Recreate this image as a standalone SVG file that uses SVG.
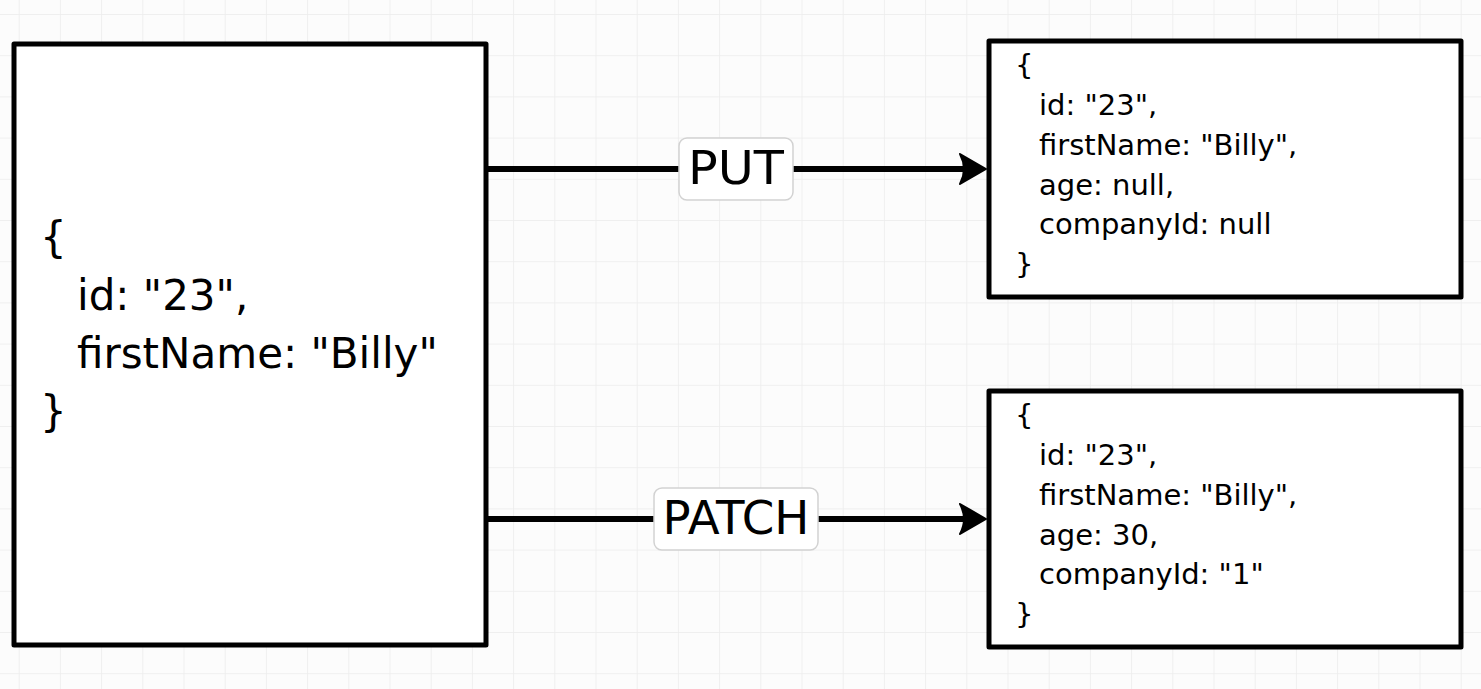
<svg xmlns="http://www.w3.org/2000/svg" width="1481" height="689" viewBox="0 0 1481 689">
<defs>
<style>
.grid line{stroke:#ececec;stroke-width:1.3}
.box{fill:#ffffff;stroke:#000;stroke-width:5;stroke-linejoin:round}
.big{font-family:"DejaVu Sans",sans-serif;font-size:42px;fill:#000}
.small{font-family:"DejaVu Sans",sans-serif;font-size:29px;fill:#000}
.lbl{fill:#ffffff;stroke:#d2d2d2;stroke-width:1.5}
.lbltxt{font-family:"DejaVu Sans",sans-serif;font-size:47px;fill:#000;text-anchor:middle}
.conn{stroke:#000;stroke-width:6;fill:none}
.head{fill:#000;stroke:#000;stroke-width:2;stroke-linejoin:round}
</style>
<pattern id="gp" x="18.7" y="14" width="41.2" height="41.2" patternUnits="userSpaceOnUse">
<path d="M0,0 H41.2 M0,0 V41.2" stroke="#ececec" stroke-width="1.5" fill="none"/>
</pattern>
</defs>
<rect width="1481" height="689" fill="#fcfcfc"/>
<rect width="1481" height="689" fill="url(#gp)"/>

<g id="connectors">
<g id="put-edge">
<line class="conn" x1="487" y1="169" x2="968" y2="169"/>
<path class="head" d="M960,154 L986,169 L960,184 Q968,169 960,154 Z"/>
<rect class="lbl" x="679" y="138" width="114" height="62" rx="8"/>
<text class="lbltxt" x="736" y="184" textLength="96" lengthAdjust="spacingAndGlyphs">PUT</text>
</g>
<g id="patch-edge">
<line class="conn" x1="487" y1="519" x2="968" y2="519"/>
<path class="head" d="M960,504 L986,519 L960,534 Q968,519 960,504 Z"/>
<rect class="lbl" x="654" y="488" width="164" height="62" rx="8"/>
<text class="lbltxt" x="736" y="534" textLength="147" lengthAdjust="spacingAndGlyphs">PATCH</text>
</g>
</g>

<g id="source">
<rect class="box" x="14" y="44" width="472" height="601"/>
<text class="big" x="40" y="252">{</text>
<text class="big" x="77" y="310">id: "23",</text>
<text class="big" x="77" y="368">firstName: "Billy"</text>
<text class="big" x="40" y="426">}</text>
</g>

<g id="put-result">
<rect class="box" x="989" y="41" width="472" height="256"/>
<text class="small" x="1015" y="75">{</text>
<text class="small" x="1039" y="115">id: "23",</text>
<text class="small" x="1039" y="155">firstName: "Billy",</text>
<text class="small" x="1039" y="195">age: null,</text>
<text class="small" x="1039" y="234">companyId: null</text>
<text class="small" x="1015" y="274">}</text>
</g>

<g id="patch-result">
<rect class="box" x="989" y="391" width="472" height="256"/>
<text class="small" x="1015" y="425">{</text>
<text class="small" x="1039" y="465">id: "23",</text>
<text class="small" x="1039" y="505">firstName: "Billy",</text>
<text class="small" x="1039" y="545">age: 30,</text>
<text class="small" x="1039" y="584">companyId: "1"</text>
<text class="small" x="1015" y="624">}</text>
</g>
</svg>
